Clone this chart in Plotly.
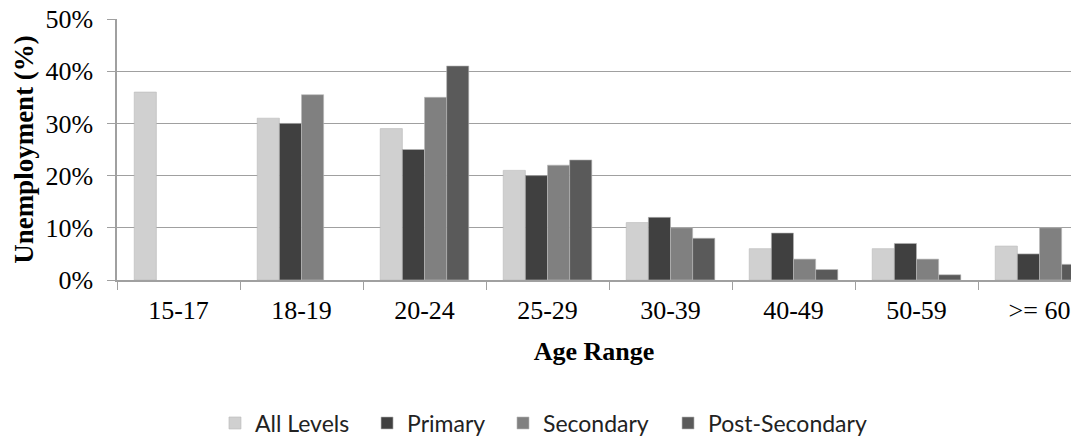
import plotly.graph_objects as go

categories = ["15-17", "18-19", "20-24", "25-29", "30-39", "40-49", "50-59", ">= 60"]
all_levels = [36, 31, 29, 21, 11, 6, 6, 6.5]
primary = [None, 30, 25, 20, 12, 9, 7, 5]
secondary = [None, 35.5, 35, 22, 10, 4, 4, 10]
post_secondary = [None, None, 41, 23, 8, 2, 1, 3]
y_ticks = [0, 10, 20, 30, 40, 50]
y_tick_labels = ["0%", "10%", "20%", "30%", "40%", "50%"]

series = [
    ("All Levels", all_levels, "#D0D0D0", "legend"),
    ("Primary", primary, "#404040", "legend2"),
    ("Secondary", secondary, "#808080", "legend3"),
    ("Post-Secondary", post_secondary, "#5A5A5A", "legend4"),
]
legend_x = [0.1027, 0.2621, 0.4046, 0.5776]

SERIF = "Liberation Serif, Times New Roman, serif"
LEGEND_FONT = dict(family="Lato, Calibri, sans-serif", size=23, color="#222")

fig = go.Figure()
for name, vals, color, lg in series:
    fig.add_trace(go.Bar(
        x=categories, y=vals, name=name, legend=lg,
        marker=dict(color=color, line=dict(color="#B8B8B8", width=0.6)),
    ))

legends = {}
for i, lx in enumerate(legend_x):
    key = "legend" if i == 0 else f"legend{i+1}"
    legends[key] = dict(orientation="h", x=lx, xanchor="left", y=-0.548, yanchor="middle",
                        font=LEGEND_FONT, itemwidth=30, bgcolor="rgba(0,0,0,0)", borderwidth=0)

fig.update_layout(
    width=1071, height=436,
    margin=dict(l=117, r=0, t=19, b=156, autoexpand=False),
    plot_bgcolor="white", paper_bgcolor="white",
    barmode="group", bargap=0.28, bargroupgap=0,
    showlegend=True,
    xaxis=dict(
        range=[-0.5, 7.256],
        automargin=False,
        showgrid=False,
        showline=True, linecolor="#A0A0A0", linewidth=1.5,
        ticks="outside", tickson="boundaries", ticklen=8, tickcolor="#A0A0A0",
        ticklabelstandoff=6, ticklabeloverflow="allow",
        tickfont=dict(family=SERIF, size=26, color="black"),
        title=dict(text="<b>Age Range</b>", font=dict(family=SERIF, size=26, color="black"), standoff=18),
    ),
    yaxis=dict(
        range=[0, 50],
        automargin=False,
        tickvals=y_ticks, ticktext=y_tick_labels,
        showgrid=True, gridcolor="#A0A0A0", gridwidth=1.3,
        showline=True, linecolor="#A0A0A0", linewidth=1.5,
        ticks="outside", ticklen=8, tickcolor="#A0A0A0",
        ticklabelstandoff=9, ticklabeloverflow="allow",
        zeroline=False,
        tickfont=dict(family=SERIF, size=26, color="black"),
        title=dict(text="<b>Unemployment (%)</b>", font=dict(family=SERIF, size=27, color="black"), standoff=4),
    ),
    **legends,
)

fig.write_html("out.html", config={"displayModeBar": False},
               post_script="document.body.style.margin='0';")
